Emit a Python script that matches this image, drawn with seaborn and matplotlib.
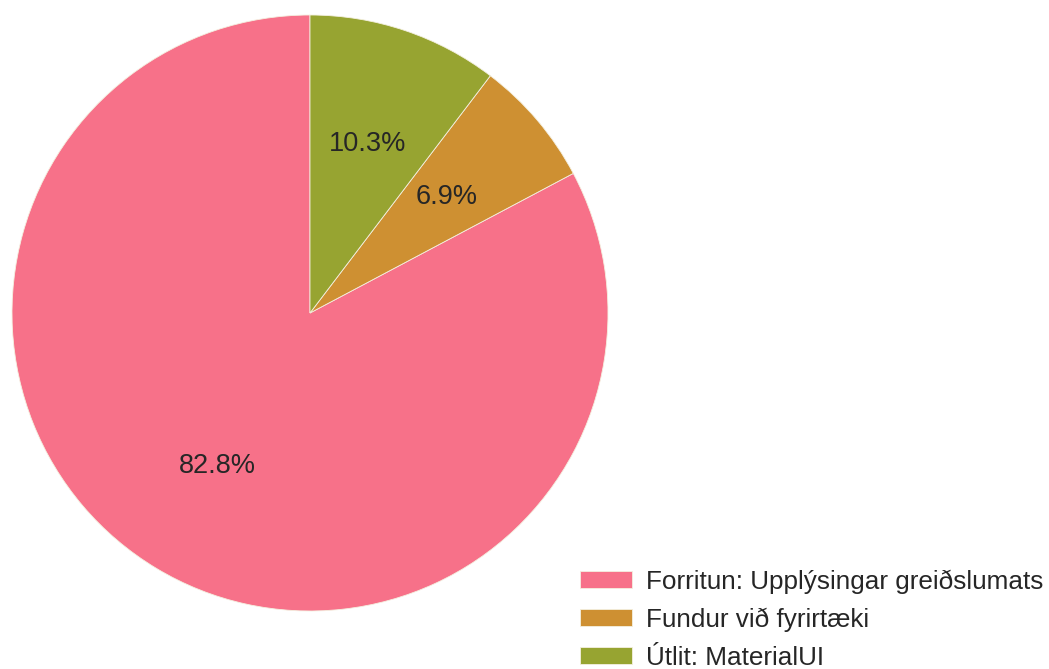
import matplotlib
matplotlib.use("Agg")
import matplotlib.pyplot as plt
import seaborn as sns

# Hours spent per task
tasks = ["Forritun: Upplýsingar greiðslumats", "Fundur við fyrirtæki", "Útlit: MaterialUI"]
hours = [24, 2, 3]

sns.set_theme(style="white")
plt.rcParams["font.family"] = ["Liberation Sans", "DejaVu Sans"]
plt.rcParams["text.color"] = "#262626"

colors = sns.color_palette("husl", 8)[:3]

fig = plt.figure(figsize=(10.49, 6.69), dpi=100)
W, H = 1049, 669
cx, cy, r = 310, 313, 298
ax = fig.add_axes([(cx - r) / W, (H - cy - r) / H, 2 * r / W, 2 * r / H])

wedges, texts, autotexts = ax.pie(
    hours, colors=colors, startangle=90, autopct="%1.1f%%",
    pctdistance=0.6, textprops={"fontsize": 19.5, "color": "#262626"},
    wedgeprops={"linewidth": 0.6, "edgecolor": "#f4f0e0"},
)
ax.set_xlim(-1, 1)
ax.set_ylim(-1, 1)
ax.set_aspect("equal")
ax.axis("off")

fig.legend(wedges, tasks, loc="lower right", bbox_to_anchor=(0.995, -0.001),
           frameon=False, fontsize=18.8, handlelength=2.0, handleheight=0.6,
           handletextpad=0.55, labelspacing=0.53, borderaxespad=0.0,
           borderpad=0.0)

fig.savefig("out.png", dpi=100, facecolor="white")
